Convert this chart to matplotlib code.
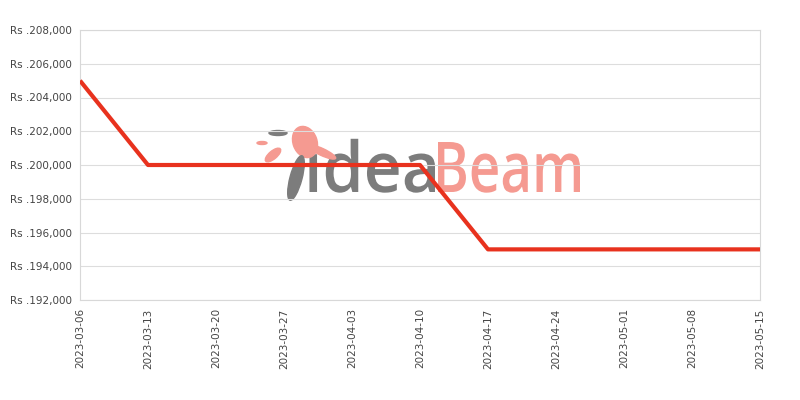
import numpy as np
import pandas as pd
import matplotlib
matplotlib.use('Agg')
import matplotlib.pyplot as plt
from matplotlib.ticker import FuncFormatter
from matplotlib.textpath import TextPath
from matplotlib.patches import PathPatch, Ellipse
from matplotlib.font_manager import FontProperties
from matplotlib.transforms import Affine2D, IdentityTransform

# weekly price data
dates = ['2023-03-06', '2023-03-13', '2023-03-20', '2023-03-27', '2023-04-03',
         '2023-04-10', '2023-04-17', '2023-04-24', '2023-05-01', '2023-05-08',
         '2023-05-15']
prices = [205000, 200000, 200000, 200000, 200000,
          200000, 195000, 195000, 195000, 195000,
          195000]
yticks = [192000, 194000, 196000, 198000, 200000, 202000, 204000, 206000, 208000]

x = pd.to_datetime(dates)

fig = plt.figure(figsize=(8, 4), dpi=100)
ax = fig.add_axes([0.1, 0.25, 0.85, 0.675])


# watermark, squeezed text paths in pixel coords
def logo_word(word, color, left, width, cap_h):
    fp = FontProperties(family='Open Sans', weight='semibold')
    tp = TextPath((0, 0), word, size=100, prop=fp)
    ref = TextPath((0, 0), 'B', size=100, prop=fp).get_extents()
    ext = tp.get_extents()
    sx = width / ext.width
    sy = cap_h / ref.height
    tr = Affine2D().translate(-ext.x0, 0).scale(sx, sy).translate(left, 208)
    fig.patches.append(PathPatch(tr.transform_path(tp), color=color, lw=0,
                                 transform=IdentityTransform(), zorder=-1))


def blob(xy, w, h, angle, color):
    fig.patches.append(Ellipse(xy, w, h, angle=angle, color=color,
                               transform=IdentityTransform(), zorder=-1))


logo_word('idea', '#7c7c7c', 309, 126, 50)
logo_word('Beam', '#f59a91', 438, 142, 50)
# rough bird shapes
blob((305, 258), 24, 32, 20, '#f59a91')
blob((322, 248), 30, 7, -25, '#f59a91')
blob((296, 222), 12, 46, -15, '#7c7c7c')
blob((273, 245), 8, 19, -50, '#f59a91')
blob((262, 257), 10, 3, 0, '#f59a91')
blob((278, 267), 18, 5, 0, '#7c7c7c')

ax.set_facecolor('none')
ax.plot(x, prices, color='#e8321e', linewidth=3, zorder=3, solid_capstyle='butt')

ax.set_xlim(x[0], x[-1])
ax.set_ylim(192000, 208000)
ax.set_yticks(yticks)
ax.yaxis.set_major_formatter(FuncFormatter(lambda v, p: 'Rs .{:,.0f}'.format(v)))
ax.set_xticks(x)
ax.set_xticklabels(dates, rotation=90)
ax.grid(axis='y', color='#dddddd', linewidth=0.8)
ax.set_axisbelow(True)
for s in ax.spines.values():
    s.set_color('#d8d8d8')
ax.tick_params(length=0, labelsize=7.5, labelcolor='#444444', pad=6)

fig.savefig('out.png', dpi=100)
